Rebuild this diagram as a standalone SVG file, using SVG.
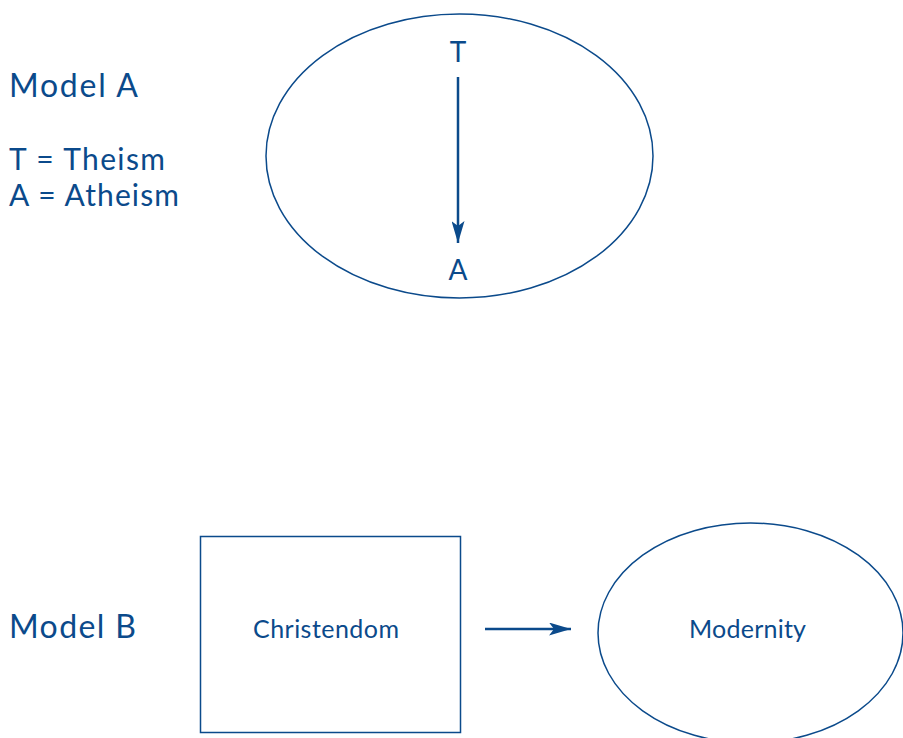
<svg xmlns="http://www.w3.org/2000/svg" width="903" height="738" viewBox="0 0 903 738">
  <style>
    .shape { fill: none; stroke: #0b4a8b; stroke-width: 1.5; }
    .conn { stroke: #0b4a8b; stroke-width: 2.5; fill: none; }
    text { font-family: "Lato", "Open Sans", "Liberation Sans", sans-serif; fill: #0b4a8b; }
    .big { font-size: 32px; }
    .legend { font-size: 30px; }
    .node { font-size: 25px; text-anchor: middle; }
  </style>
  <defs>
    <marker id="arrow" markerWidth="22" markerHeight="13" refX="22" refY="6.5" orient="auto" markerUnits="userSpaceOnUse" viewBox="0 0 22 13">
      <path d="M0,0 L22,6.5 L0,13 L5,6.5 Z" fill="#0b4a8b"/>
    </marker>
  </defs>
  <rect width="903" height="738" fill="#ffffff"/>

  <!-- Model A -->
  <text class="big" x="9" y="97" textLength="129" lengthAdjust="spacing">Model A</text>
  <text class="legend" x="9" y="170" textLength="156" lengthAdjust="spacing">T = Theism</text>
  <text class="legend" x="9" y="206" textLength="170" lengthAdjust="spacing">A = Atheism</text>

  <g id="ellipseA">
    <ellipse class="shape" cx="459.5" cy="156" rx="193.5" ry="142"/>
  </g>
  <g id="nodeT">
    <text class="node" style="font-size:28px" x="458" y="62">T</text>
  </g>
  <g id="nodeA">
    <text class="node" style="font-size:28px" x="458" y="280">A</text>
  </g>

  <!-- Model B -->
  <text class="big" x="9" y="638" textLength="127" lengthAdjust="spacing">Model B</text>
  <g id="christendom">
    <rect class="shape" x="200.5" y="536.5" width="260" height="196"/>
    <text class="node" x="326" y="638" textLength="146" lengthAdjust="spacing">Christendom</text>
  </g>
  <g id="modernity">
    <ellipse class="shape" cx="750.5" cy="633" rx="152.5" ry="110"/>
    <text class="node" x="747.5" y="638" textLength="117" lengthAdjust="spacing">Modernity</text>
  </g>

  <g id="connectors">
    <line class="conn" x1="458" y1="77" x2="458" y2="243" marker-end="url(#arrow)"/>
    <line class="conn" x1="485" y1="629" x2="571" y2="629" marker-end="url(#arrow)"/>
  </g>
</svg>
